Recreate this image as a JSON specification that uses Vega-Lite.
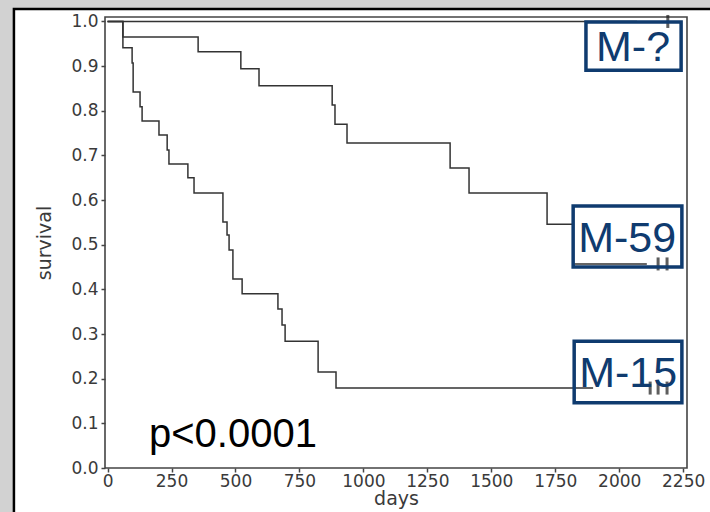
{
  "$schema": "https://vega.github.io/schema/vega-lite/v6.json",
  "width": 582,
  "height": 451,
  "autosize": {"type": "none"},
  "padding": {"left": 105, "top": 17, "right": 23, "bottom": 44},
  "background": "#d2d2d2",
  "config": {
    "view": {"stroke": null},
    "axis": {
      "labelFont": "DejaVu Sans", "labelFontSize": 17, "labelColor": "#3a3a3a",
      "titleFont": "DejaVu Sans", "titleFontSize": 19, "titleFontWeight": "normal", "titleColor": "#3a3a3a",
      "tickColor": "#444444", "tickSize": 4, "tickWidth": 1.5, "domain": false, "grid": false, "zindex": 2
    }
  },
  "datasets": {
    "curves": [
      {"group": "M-?", "day": 0, "surv": 1.0},
      {"group": "M-?", "day": 2070, "surv": 1.0},
      {"group": "M-59", "day": 0, "surv": 1.0},
      {"group": "M-59", "day": 60, "surv": 0.965},
      {"group": "M-59", "day": 354, "surv": 0.932},
      {"group": "M-59", "day": 521, "surv": 0.894},
      {"group": "M-59", "day": 592, "surv": 0.856},
      {"group": "M-59", "day": 878, "surv": 0.813},
      {"group": "M-59", "day": 889, "surv": 0.770},
      {"group": "M-59", "day": 936, "surv": 0.728},
      {"group": "M-59", "day": 1339, "surv": 0.672},
      {"group": "M-59", "day": 1413, "surv": 0.616},
      {"group": "M-59", "day": 1718, "surv": 0.546},
      {"group": "M-59", "day": 1820, "surv": 0.457},
      {"group": "M-59", "day": 2108, "surv": 0.457},
      {"group": "M-15", "day": 0, "surv": 1.0},
      {"group": "M-15", "day": 60, "surv": 0.941},
      {"group": "M-15", "day": 96, "surv": 0.907},
      {"group": "M-15", "day": 100, "surv": 0.842},
      {"group": "M-15", "day": 127, "surv": 0.809},
      {"group": "M-15", "day": 135, "surv": 0.777},
      {"group": "M-15", "day": 201, "surv": 0.746},
      {"group": "M-15", "day": 233, "surv": 0.712},
      {"group": "M-15", "day": 240, "surv": 0.681},
      {"group": "M-15", "day": 314, "surv": 0.650},
      {"group": "M-15", "day": 338, "surv": 0.616},
      {"group": "M-15", "day": 451, "surv": 0.551},
      {"group": "M-15", "day": 467, "surv": 0.522},
      {"group": "M-15", "day": 475, "surv": 0.488},
      {"group": "M-15", "day": 490, "surv": 0.423},
      {"group": "M-15", "day": 526, "surv": 0.390},
      {"group": "M-15", "day": 666, "surv": 0.356},
      {"group": "M-15", "day": 682, "surv": 0.320},
      {"group": "M-15", "day": 694, "surv": 0.284},
      {"group": "M-15", "day": 823, "surv": 0.215},
      {"group": "M-15", "day": 893, "surv": 0.179},
      {"group": "M-15", "day": 1898, "surv": 0.179}
    ],
    "censored": [
      {"group": "M-?", "day": 2190, "surv": 1.0},
      {"group": "M-59", "day": 2152, "surv": 0.457},
      {"group": "M-59", "day": 2187, "surv": 0.457},
      {"group": "M-15", "day": 2121, "surv": 0.179},
      {"group": "M-15", "day": 2152, "surv": 0.179},
      {"group": "M-15", "day": 2187, "surv": 0.179}
    ],
    "labels": [
      {"group": "M-?", "day_start": 1870, "day_end": 2242, "surv_top": 0.999, "surv_bottom": 0.891, "day": 2054, "surv": 0.945},
      {"group": "M-59", "day_start": 1820, "day_end": 2245, "surv_top": 0.587, "surv_bottom": 0.450, "day": 2031, "surv": 0.517},
      {"group": "M-15", "day_start": 1824, "day_end": 2245, "surv_top": 0.284, "surv_bottom": 0.146, "day": 2035, "surv": 0.215}
    ],
    "note": [
      {"text": "p<0.0001", "day": 162, "surv": 0.047}
    ]
  },
  "layer": [
    {
      "data": {"values": [{"id": "panel"}]},
      "mark": {"type": "rect", "fill": "white", "stroke": "black", "strokeWidth": 2.5},
      "encoding": {
        "x": {"datum": -366, "type": "quantitative", "scale": {"domain": [-10, 2265], "nice": false, "zero": false}},
        "x2": {"datum": 2700},
        "y": {"datum": 1.028, "type": "quantitative", "scale": {"domain": [0, 1.01], "nice": false, "zero": false}},
        "y2": {"datum": -0.3}
      }
    },
    {
      "data": {"values": [{"id": "frame"}]},
      "mark": {"type": "rect", "fill": null, "stroke": "#444444", "strokeWidth": 1.6},
      "encoding": {
        "x": {"datum": -10, "type": "quantitative", "scale": {"domain": [-10, 2265], "nice": false, "zero": false}},
        "x2": {"datum": 2265},
        "y": {"datum": 0, "type": "quantitative", "scale": {"domain": [0, 1.01], "nice": false, "zero": false}},
        "y2": {"datum": 1.01}
      }
    },
    {
      "data": {"name": "curves"},
      "mark": {"type": "line", "interpolate": "step-after", "color": "#333333", "strokeWidth": 1.5},
      "encoding": {
        "x": {"field": "day", "type": "quantitative", "scale": {"domain": [-10, 2265], "nice": false, "zero": false},
          "axis": {"title": "days", "zindex": 2, "format": "d", "values": [0, 250, 500, 750, 1000, 1250, 1500, 1750, 2000, 2250], "labelOverlap": false, "labelFlush": false, "labelBound": false, "labelPadding": 1, "titlePadding": 0}},
        "y": {"field": "surv", "type": "quantitative", "scale": {"domain": [0, 1.01], "nice": false, "zero": false},
          "axis": {"title": "survival", "zindex": 2, "values": [0, 0.1, 0.2, 0.3, 0.4, 0.5, 0.6, 0.7, 0.8, 0.9, 1.0], "format": ".1f", "labelPadding": 3, "titlePadding": 16}},
        "detail": {"field": "group"}
      }
    },
    {
      "data": {"name": "censored"},
      "mark": {"type": "tick", "orient": "vertical", "color": "#1a1a1a", "size": 13, "thickness": 3},
      "encoding": {
        "x": {"field": "day", "type": "quantitative", "scale": {"domain": [-10, 2265], "nice": false, "zero": false}},
        "y": {"field": "surv", "type": "quantitative", "scale": {"domain": [0, 1.01], "nice": false, "zero": false}}
      }
    },
    {
      "data": {"name": "labels"},
      "mark": {"type": "rect", "fill": null, "stroke": "#0f3b6f", "strokeWidth": 3.5},
      "encoding": {
        "x": {"field": "day_start", "type": "quantitative", "scale": {"domain": [-10, 2265], "nice": false, "zero": false}},
        "x2": {"field": "day_end"},
        "y": {"field": "surv_top", "type": "quantitative", "scale": {"domain": [0, 1.01], "nice": false, "zero": false}},
        "y2": {"field": "surv_bottom"}
      }
    },
    {
      "data": {"name": "labels"},
      "mark": {"type": "text", "font": "Liberation Sans", "fontSize": 43, "color": "#0f3b6f", "align": "center", "baseline": "middle", "dy": 2},
      "encoding": {
        "x": {"field": "day", "type": "quantitative", "scale": {"domain": [-10, 2265], "nice": false, "zero": false}},
        "y": {"field": "surv", "type": "quantitative", "scale": {"domain": [0, 1.01], "nice": false, "zero": false}},
        "text": {"field": "group"}
      }
    },
    {
      "data": {"name": "note"},
      "mark": {"type": "text", "font": "Liberation Sans", "fontSize": 40, "color": "#000000", "align": "left", "baseline": "alphabetic"},
      "encoding": {
        "x": {"field": "day", "type": "quantitative", "scale": {"domain": [-10, 2265], "nice": false, "zero": false}},
        "y": {"field": "surv", "type": "quantitative", "scale": {"domain": [0, 1.01], "nice": false, "zero": false}},
        "text": {"field": "text"}
      }
    }
  ]
}
